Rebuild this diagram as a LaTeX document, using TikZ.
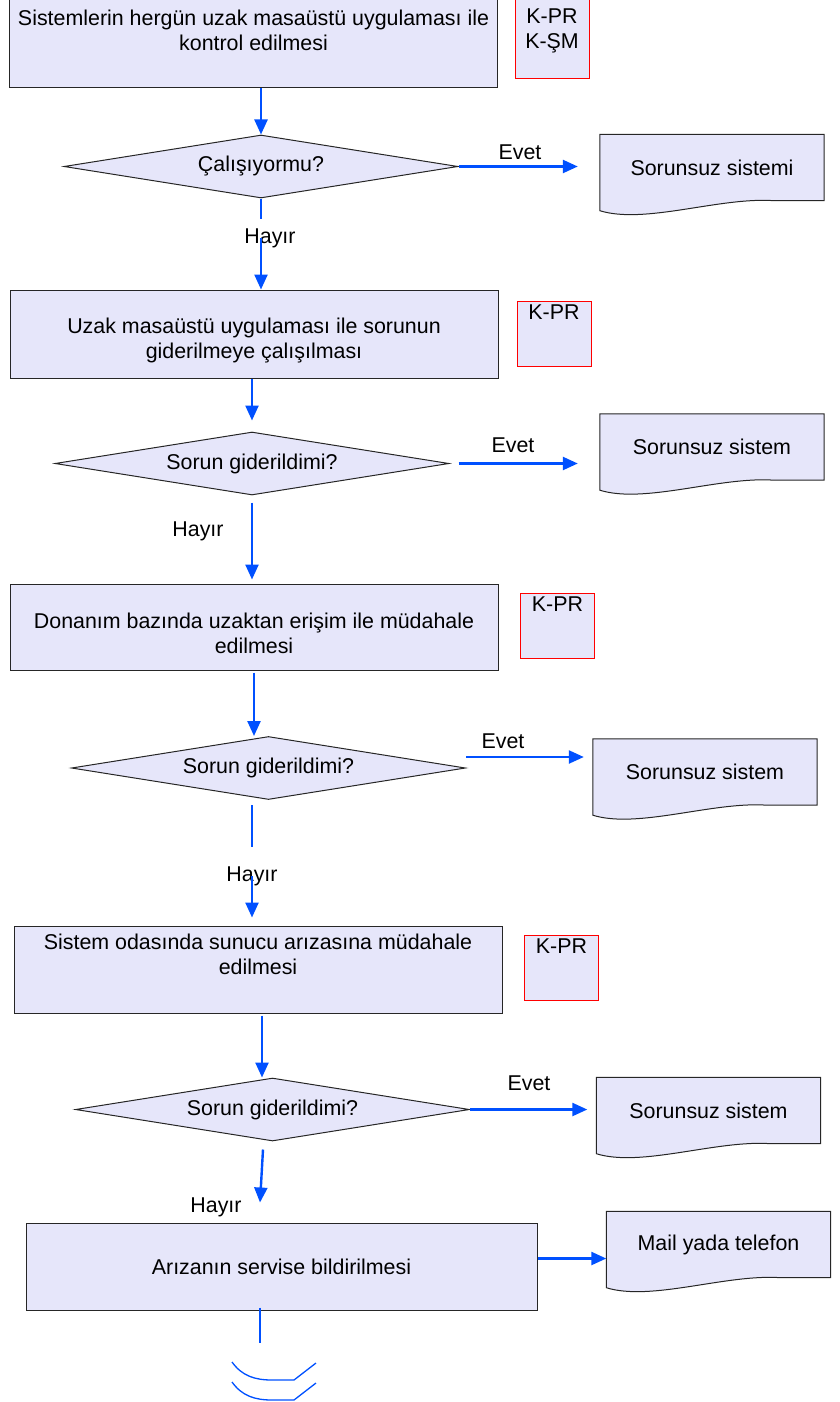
\documentclass[tikz,border=0pt]{standalone}
\usepackage{fontspec}
\setmainfont{Liberation Sans}
\usetikzlibrary{shapes.geometric,arrows.meta,backgrounds}
\definecolor{boxfill}{RGB}{230,230,250}
\definecolor{flowblue}{RGB}{0,80,255}

\begin{document}
\begin{tikzpicture}[
   x=1pt, y=-1pt,
   font=\fontsize{21.4}{25}\selectfont,
   box/.style={rectangle, draw=black!85, fill=boxfill, line width=1pt, minimum width=488pt, minimum height=87pt, align=center, inner sep=3pt},
   kbox/.style={rectangle, draw=red, fill=boxfill, line width=1pt, minimum width=74pt, align=center, inner sep=3pt},
   decision/.style={diamond, draw=black!85, fill=boxfill, line width=1pt, minimum width=394pt, minimum height=63pt, inner sep=0pt, aspect=6},
   doc/.style={rectangle, minimum width=224pt, minimum height=66pt, inner sep=0pt},
   docline/.style={draw=black!85, fill=boxfill, line width=1pt},
   arrow/.style={-{Triangle[length=15pt,width=13pt]}, flowblue, line width=2.4pt},
   plainline/.style={flowblue, line width=1.6pt}
]
\useasboundingbox (0,0) rectangle (839,1402);

% Steps
\node[box, text height=48pt, text depth=34pt] (check) at (253.5,44) {Sistemlerin hergün uzak masaüstü uygulaması ile\\kontrol edilmesi};
\node[box, text height=65pt, text depth=17pt] (remote) at (254,334) {Uzak masaüstü uygulaması ile sorunun\\giderilmeye çalışılması};
\node[box, minimum height=86pt, text height=66pt, text depth=14pt] (hardware) at (254,627) {Donanım bazında uzaktan erişim ile müdahale\\edilmesi};
\node[box, text height=45pt, text depth=36pt] (server) at (258,969.5) {Sistem odasında sunucu arızasına müdahale\\edilmesi};
\node[box, minimum width=511pt] (service) at (281.5,1266.5) {Arızanın servise bildirilmesi};

% Responsibles
\node[kbox, text height=46pt, text depth=27pt] (resp1) at (552,39.5) {K-PR\\K-ŞM};
\node[kbox, text height=15pt, text depth=44pt] (resp2) at (554,333.5) {K-PR};
\node[kbox, text height=15pt, text depth=44pt] (resp3) at (557.5,625.5) {K-PR};
\node[kbox, text height=15pt, text depth=44pt] (resp4) at (561.5,967.5) {K-PR};

% Decisions
\node[decision] (q1) at (261,166.5) {Çalışıyormu?};
\node[decision] (q2) at (252,463.5) {Sorun giderildimi?};
\node[decision] (q3) at (268.5,768) {Sorun giderildimi?};
\node[decision] (q4) at (272.5,1109.5) {Sorun giderildimi?};

% Documents
\node[doc] (ok1) at (712,167.5) {Sorunsuz sistemi};
\node[doc] (ok2) at (712,447) {Sorunsuz sistem};
\node[doc] (ok3) at (705,772) {Sorunsuz sistem};
\node[doc] (ok4) at (708.5,1110.5) {Sorunsuz sistem};
\node[doc] (mail) at (718.5,1244.5) {Mail yada telefon};

\begin{scope}[on background layer]
\foreach \d in {ok1,ok2,ok3,ok4,mail}
  \draw[docline] (\d.north west) -- (\d.north east) -- (\d.south east) -- ([xshift=-50pt]\d.south east)
     .. controls ([xshift=-104pt,yshift=4pt]\d.south east) and ([xshift=45pt,yshift=-24pt]\d.south west) .. ([yshift=-10pt]\d.south west) -- cycle;
\end{scope}

% Labels
\node (yes1) at (520,152) {Evet};
\node (yes2) at (513,445) {Evet};
\node (yes3) at (503,741) {Evet};
\node (yes4) at (529,1083) {Evet};
\node (no1) at (270,238) {Hayır};
\node (no2) at (198,531) {Hayır};
\node (no3) at (252,876) {Hayır};
\node (no4) at (216,1207) {Hayır};

% Main flow
\draw[arrow] (q1.north |- check.south) -- (q1.north);
\draw[plainline] (q1.south) -- ++(0,20);
\draw[arrow] (no1 -| q1.south) -- (q1.south |- remote.north);
\draw[arrow, shorten >=11pt] (q2.north |- remote.south) -- (q2.north);
\draw[arrow, shorten <=7pt, shorten >=4pt] (q2.south) -- (q2.south |- hardware.north);
\draw[arrow, shorten <=2pt] (hardware.south) -- (hardware.south |- q3.north);
\draw[plainline] ([yshift=-5pt]q3.south -| no3) -- ++(0,42);
\draw[arrow, shorten >=8pt] (no3.center) -- (no3 |- server.north);
\draw[arrow, shorten <=2pt] ([xshift=4pt]server.south) -- ([xshift=4pt]server.south |- q4.north);
\draw[arrow] ([xshift=-9.5pt,yshift=-8pt]q4.south) -- ([xshift=-21.5pt,yshift=20pt]service.north);
\draw[plainline] ([xshift=-21.5pt,yshift=3pt]service.south) -- ++(0,35);

% Evet branches
\draw[arrow, shorten >=22pt] (q1.east) -- (q1.east -| ok1.west);
\draw[arrow, shorten <=9pt, shorten >=22pt] (q2.east) -- (q2.east -| ok2.west);
\draw[arrow, shorten >=9pt] ([yshift=11pt]q3.east) -- ([yshift=11pt]q3.east -| ok3.west);
\draw[arrow, shorten >=9pt] (q4.east) -- (q4.east -| ok4.west);
\draw[arrow] ([yshift=8pt]service.east) -- ([yshift=8pt]service.east -| mail.west);

% Off-page connector
\draw[plainline, line width=1.3pt] (232,1362) .. controls (242,1376) and (255,1380) .. (272,1380) -- (294,1380) -- (316,1363);
\draw[plainline, line width=1.3pt] (232,1382) .. controls (242,1396) and (255,1400) .. (272,1400) -- (294,1400) -- (316,1383);

\end{tikzpicture}
\end{document}
